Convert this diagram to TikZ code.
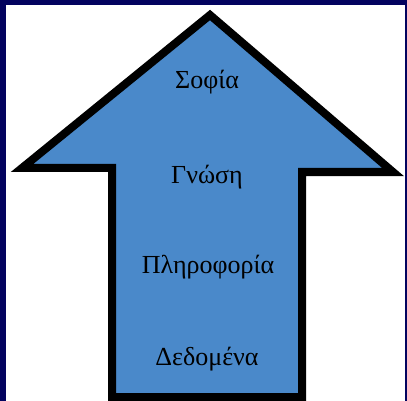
\documentclass[tikz,border=0pt]{standalone}
\usepackage{fontspec}
\setmainfont{Liberation Serif}
\usetikzlibrary{positioning}
\definecolor{Frame}{HTML}{03035F}
\definecolor{ArrowBlue}{HTML}{4A89CA}

\begin{document}
\begin{tikzpicture}[x=1pt,y=-1pt,
  level/.style={font=\fontsize{26}{30}\selectfont,anchor=base,inner sep=0pt,color=black},
  outline/.style={draw=black,line width=8pt,fill=ArrowBlue,line join=miter}
]
\useasboundingbox (0,0) rectangle (407,401);
\fill[Frame] (0,0) rectangle (407,401);
\fill[white] (6,5) rectangle (405,401);

\coordinate (apex) at (210,15);
\coordinate (lbarb) at (22,168);
\coordinate (lshaft) at (112,168);
\coordinate (lfoot) at (112,397);
\coordinate (rfoot) at (302,397);
\coordinate (rshaft) at (302,172);
\coordinate (rbarb) at (393,172);
\draw[outline] (apex)--(lbarb)--(lshaft)--(lfoot)--(rfoot)--(rshaft)--(rbarb)--cycle;

\foreach \name/\txt/\x/\y in {sofia/Σοφία/207/89,gnosi/Γνώση/207/183,
    pliroforia/Πληροφορία/208/273,dedomena/Δεδομένα/207/365}
  \node[level] (\name) at (\x,\y) {\txt};
\end{tikzpicture}
\end{document}
